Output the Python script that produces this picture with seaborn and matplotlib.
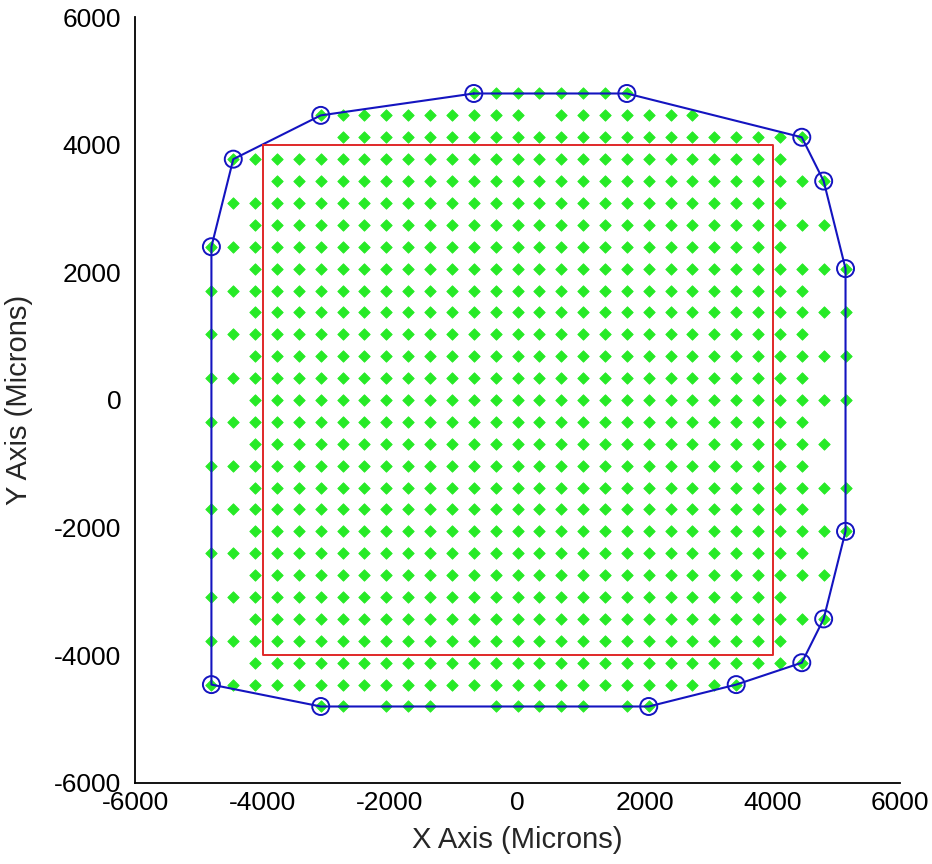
import numpy as np
import pandas as pd
import matplotlib
matplotlib.use("Agg")
import matplotlib.pyplot as plt
import seaborn as sns

# ---- data ----
pitch = 343.0  # grid spacing in microns
# each row: grid row index, first column index, last column index
row_index = [14, 13, 12, 11, 10, 9, 8, 7, 6, 5, 4, 3, 2, 1, 0,
             -1, -2, -3, -4, -5, -6, -7, -8, -9, -10, -11, -12, -13, -14]
col_first = [-2, -9, -8, -13, -11, -13, -12, -14, -12, -14, -12, -14, -12, -14, -12,
             -14, -12, -14, -12, -14, -12, -14, -12, -14, -12, -14, -12, -14, -9]
col_last = [5, 8, 13, 12, 14, 12, 14, 12, 15, 13, 15, 13, 15, 13, 15,
            13, 14, 13, 15, 13, 15, 13, 14, 12, 14, 12, 13, 10, 6]
# missing points (row, col)
missing = [(13, 1), (-14, -7), (-14, -3), (-14, -2), (-14, 4)]

# hull vertices (col, row) in order
hull_cols = [-2, 5, 13, 14, 15, 15, 14, 13, 10, 6, -9, -14, -14, -13, -9, -2]
hull_rows = [14, 14, 12, 10, 6, -6, -10, -12, -13, -14, -14, -13, 7, 11, 13, 14]

# inner square (microns)
square_x = [-4000, 4000, 4000, -4000, -4000]
square_y = [4000, 4000, -4000, -4000, 4000]

ticks = [-6000, -4000, -2000, 0, 2000, 4000, 6000]

# ---- build tables ----
pts = []
for r, c0, c1 in zip(row_index, col_first, col_last):
    for c in range(c0, c1 + 1):
        if (r, c) in missing:
            continue
        pts.append((c * pitch, r * pitch))
grid = pd.DataFrame(pts, columns=["x", "y"])
hull = pd.DataFrame({"x": np.array(hull_cols) * pitch,
                     "y": np.array(hull_rows) * pitch,
                     "order": range(len(hull_cols))})
square = pd.DataFrame({"x": square_x, "y": square_y, "order": range(5)})

sns.set_style("white")
plt.rcParams['font.family'] = ['Liberation Sans', 'DejaVu Sans']

fig = plt.figure(figsize=(9.32, 8.64), dpi=100)
ax = fig.add_axes([0.1449, 0.0938, 0.8208, 0.8865])

green = '#26ea26'
blue = '#1414c0'
red = '#e02828'

sns.scatterplot(data=grid, x="x", y="y", ax=ax, marker='D', s=34,
                color=green, edgecolor=green, linewidth=0.6, zorder=2, legend=False)
sns.lineplot(data=hull, x="x", y="y", ax=ax, sort=False, estimator=None,
             color=blue, linewidth=1.5, zorder=3)
sns.scatterplot(data=hull.iloc[:-1], x="x", y="y", ax=ax, marker='o', s=150,
                facecolor='none', edgecolor=blue, linewidth=1.4, zorder=4, legend=False)
sns.lineplot(data=square, x="x", y="y", ax=ax, sort=False, estimator=None,
             color=red, linewidth=1.4, zorder=3)

ax.set_xlim(-6000, 6000)
ax.set_ylim(-6000, 6000)
ax.set_xticks(ticks)
ax.set_yticks(ticks)
ax.set_xticklabels([str(t) for t in ticks])
ax.set_yticklabels([str(t) for t in ticks])
ax.tick_params(direction='in', length=8, width=1.3, labelsize=19, colors='black')
ax.tick_params(axis='x', pad=6)
ax.tick_params(axis='y', pad=10)
for s in ['top', 'right']:
    ax.spines[s].set_visible(False)
for s in ['left', 'bottom']:
    ax.spines[s].set_color('black')
    ax.spines[s].set_linewidth(1.3)
ax.set_xlabel("X Axis (Microns)", fontsize=21)
ax.set_ylabel("Y Axis (Microns)", fontsize=21)
ax.xaxis.set_label_coords(0.5, -0.056)
ax.yaxis.set_label_coords(-0.134, 0.5)

fig.savefig("out.png", dpi=100, facecolor='white')
